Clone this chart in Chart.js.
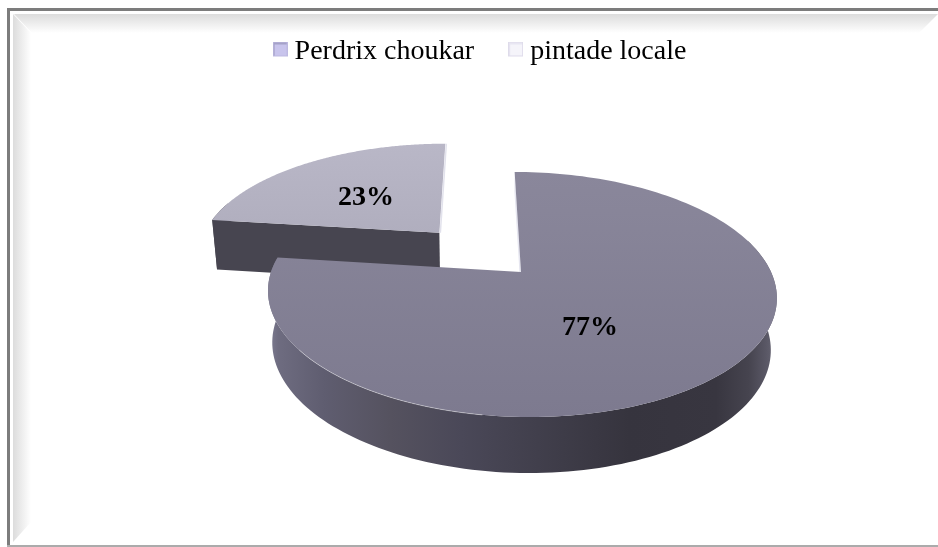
<!DOCTYPE html>
<html>
<head>
<meta charset="utf-8">
<style>
  html, body { margin: 0; padding: 0; background: #fff; }
  #wrap { width: 938px; height: 547px; }
</style>
<script src="https://cdn.jsdelivr.net/npm/chart.js@4"></script>
</head>
<body>
<div id="wrap"><canvas id="pie" width="938" height="547"></canvas></div>
<script>
const categories = ['Perdrix choukar', 'pintade locale'];
const shares = [77, 23];
const explodeBy = [0, 122];

// Pinhole-style view of the tilted disc; radius comes from the arc element.
const view = {
  vanishX: 480, discShiftX: 0.164, centreY: 272,
  squash: 0.4736, tilt: -0.1837,
  sink: 0.02, depth: 51.5, depthTilt: -0.08,
  explodeLean: -0.04
};

const faces = [
  {
    top: ['#8a879b', '#7d7a8f'],
    walls: [[0, '#7f7d93'], [0.02, '#6e6c80'], [0.11, '#5f5d70'], [0.24, '#55525f'], [0.38, '#4a4858'], [0.58, '#3e3c48'],
            [0.71, '#36343e'], [0.88, '#383640'], [0.945, '#46444f'], [0.98, '#5a5866'], [1, '#6a6876']]
  },
  { top: ['#b9b7c7', '#b0aebe'], walls: [[0, '#4c4a55'], [1, '#474550']] }
];
const labelCentres = [[590, 328], [366, 198]];

function project(u, v, z, R) {
  const w = 1 + view.tilt * v + view.sink * z;
  return {
    x: view.vanishX + R * (u + view.discShiftX) / w,
    y: view.centreY + R * view.squash * v / (1 + view.tilt * v) + z * view.depth / (1 + view.depthTilt * v)
  };
}

function sliceGeometry(el) {
  const R = el.outerRadius;
  const mid = (el.startAngle + el.endAngle) / 2 + view.explodeLean;
  const e = (el.options.offset || 0) / R;
  const ox = Math.cos(mid) * e, oy = Math.sin(mid) * e;
  const at = (a, r, z) => project(ox + r * Math.cos(a), oy + r * Math.sin(a), z, R);
  return { at, start: el.startAngle, end: el.endAngle };
}

function outline(ctx, pts) {
  ctx.beginPath();
  pts.forEach((p, i) => i ? ctx.lineTo(p.x, p.y) : ctx.moveTo(p.x, p.y));
  ctx.closePath();
}

function arcPoints(g, from, to, z, keep) {
  const n = 180, pts = [];
  for (let i = 0; i <= n; i++) {
    const a = from + (to - from) * i / n;
    if (!keep || keep(a)) pts.push(g.at(a, 1, z));
  }
  return pts;
}

function horizontalFill(ctx, pts, stops) {
  const xs = pts.map(p => p.x);
  const grad = ctx.createLinearGradient(Math.min(...xs), 0, Math.max(...xs), 0);
  stops.forEach(([pos, c]) => grad.addColorStop(pos, c));
  return grad;
}

function drawSlice(ctx, el, face, index) {
  const g = sliceGeometry(el);
  // the far part of the rim never shows, so its wall is left out
  const facing = a => Math.sin(a) > -0.3;
  const wall = arcPoints(g, g.start, g.end, 0, facing).concat(arcPoints(g, g.end, g.start, 1, facing));

  outline(ctx, wall);
  ctx.fillStyle = horizontalFill(ctx, wall, face.walls);
  ctx.fill();

  // cut faces of the slice
  const cut = (a, colour, z) => {
    outline(ctx, [g.at(a, 0, 0), g.at(a, 1, 0), g.at(a, 1, z), g.at(a, 0, z)]);
    ctx.fillStyle = colour;
    ctx.fill();
  };
  if (index === 0) cut(g.start, '#e6e6f0', 0.4);
  else cut(g.start, face.walls[1][1], 1);

  // top of the slice
  const rim = arcPoints(g, g.start, g.end, 0);
  const topPts = [g.at(g.start, 0, 0)].concat(rim);
  outline(ctx, topPts);
  const ys = topPts.map(p => p.y);
  const grad = ctx.createLinearGradient(0, Math.min(...ys), 0, Math.max(...ys));
  grad.addColorStop(0, face.top[0]);
  grad.addColorStop(1, face.top[1]);
  ctx.fillStyle = grad;
  ctx.fill();

  if (index === 0) {
    // light catching the front-left rim
    const glint = arcPoints(g, Math.PI * 0.55, Math.PI * 0.8, 0);
    ctx.beginPath();
    glint.forEach((p, i) => i ? ctx.lineTo(p.x, p.y) : ctx.moveTo(p.x, p.y));
    ctx.strokeStyle = 'rgba(255,255,255,0.4)';
    ctx.lineWidth = 1;
    ctx.stroke();
  } else {
    const a = g.at(g.end, 0, 0), b = g.at(g.end, 1, 0);
    ctx.beginPath();
    ctx.moveTo(a.x + 1, a.y);
    ctx.lineTo(b.x + 1, b.y);
    ctx.strokeStyle = '#e2e2ec';
    ctx.lineWidth = 1.5;
    ctx.stroke();
  }
}

const extrudedPie = {
  id: 'extrudedPie',
  beforeDatasetsDraw(chart) {
    const ctx = chart.ctx;
    const arcs = chart.getDatasetMeta(0).data;
    ctx.save();
    // exploded slice sits behind the big one
    [1, 0].forEach(i => drawSlice(ctx, arcs[i], faces[i], i));
    ctx.fillStyle = '#000';
    ctx.font = 'bold 28px "Liberation Serif"';
    ctx.textAlign = 'center';
    ctx.textBaseline = 'middle';
    shares.forEach((s, i) => ctx.fillText(s + '%', labelCentres[i][0], labelCentres[i][1]));
    ctx.restore();
    return false;
  }
};

const pageFrame = {
  id: 'pageFrame',
  beforeDraw(chart) {
    const ctx = chart.ctx;
    ctx.save();
    ctx.fillStyle = '#fff';
    ctx.fillRect(0, 0, 938, 547);

    const band = (poly, x0, y0, x1, y1) => {
      const grad = ctx.createLinearGradient(x0, y0, x1, y1);
      grad.addColorStop(0, '#dcdcdc');
      grad.addColorStop(1, '#ffffff');
      outline(ctx, poly.map(p => ({ x: p[0], y: p[1] })));
      ctx.fillStyle = grad;
      ctx.fill();
    };
    band([[14, 14], [938, 14], [919, 33], [32, 33]], 0, 14, 0, 33);
    band([[13, 14], [31, 33], [31, 522], [13, 542]], 13, 0, 31, 0);

    ctx.fillStyle = '#7c7c7c';
    ctx.fillRect(7, 8, 931, 3);
    ctx.fillRect(7, 8, 3, 538);
    ctx.fillStyle = '#ababab';
    ctx.fillRect(7, 545, 931, 2);
    ctx.restore();
  }
};

// Legend key: a bevelled square sitting in the upper part of a taller tile,
// which lifts it a little above the text's middle line.
function swatch(body, edge, shade) {
  const c = document.createElement('canvas');
  c.width = 15; c.height = 21;
  const x = c.getContext('2d');
  x.fillStyle = body; x.fillRect(0, 0, 15, 15);
  x.fillStyle = shade; x.fillRect(0, 0, 15, 3); x.fillRect(0, 0, 2, 15);
  x.strokeStyle = edge; x.lineWidth = 1; x.strokeRect(0.5, 0.5, 14, 14);
  return c;
}
const swatches = [swatch('#c8c4ec', '#bdb9e0', '#a5a2c8'), swatch('#f5f4fa', '#dedbea', '#e8e6f2')];

new Chart(document.getElementById('pie'), {
  type: 'pie',
  data: {
    labels: categories,
    datasets: [{
      data: shares,
      offset: explodeBy,
      radius: 250,
      backgroundColor: faces.map(f => f.top[1]),
      borderWidth: 0
    }]
  },
  plugins: [pageFrame, extrudedPie],
  options: {
    responsive: false,
    animation: false,
    layout: { padding: { left: 28, top: -3 } },
    plugins: {
      tooltip: { enabled: false },
      legend: {
        position: 'top',
        labels: {
          font: { family: '"Liberation Serif"', size: 28 },
          color: '#000',
          padding: 41,
          usePointStyle: true,
          pointStyleWidth: 1,
          generateLabels: () => categories.map((text, i) => ({
            text, pointStyle: swatches[i], fontColor: '#000',
            fillStyle: '#fff', strokeStyle: '#fff', lineWidth: 0, hidden: false, index: i
          }))
        }
      }
    }
  }
});
</script>
</body>
</html>
